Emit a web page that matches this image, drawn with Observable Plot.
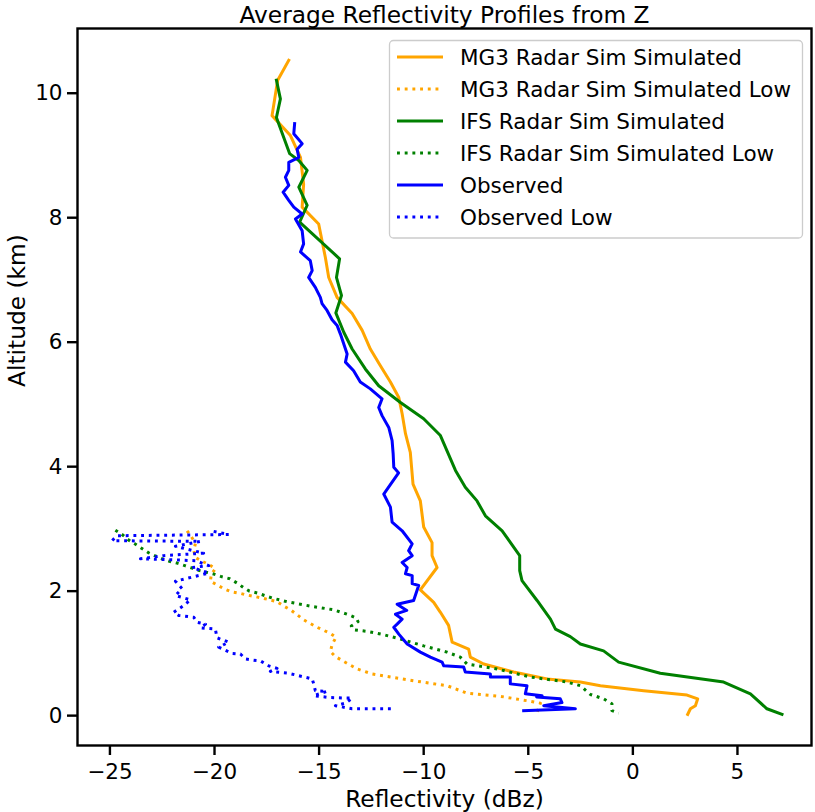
<!DOCTYPE html>
<html><head><meta charset="utf-8">
<script src="https://cdn.jsdelivr.net/npm/d3@7"></script>
<script src="https://cdn.jsdelivr.net/npm/@observablehq/plot@0.6"></script>
<style>
body{margin:0;background:#fff;}
#chart{position:relative;width:815px;height:812px;}
</style></head><body><div id="chart"></div>
<script>
// ---- Data, listed from top altitude downwards ----
const mg3Refl = [-16.45,-16.98,-17.25,-16.37,-15.89,-15.74,-15.81,-15.02,-14.70,-14.54,-14.14,-13.42,-12.94,-12.55,-12.07,-11.59,-11.19,-11.03,-10.87,-10.64,-10.51,-10.16,-10.00,-9.60,-9.60,-9.36,-10.16,-9.52,-9.20,-8.81,-8.64,-7.85,-7.77,-7.13,-5.70,-4.10,-2.51,-1.55,0.52,2.59,3.10,2.99,2.75,2.62];
const mg3Alt  = [10.53,10.21,9.64,9.32,8.97,8.54,8.17,7.90,7.36,7.04,6.72,6.46,6.19,5.89,5.62,5.36,5.11,4.85,4.53,4.23,3.72,3.45,3.03,2.78,2.57,2.38,2.02,1.82,1.66,1.45,1.18,1.07,0.94,0.83,0.70,0.59,0.54,0.48,0.40,0.33,0.27,0.16,0.11,0.02];

const mg3LowRefl = [-21.31,-21.10,-20.91,-20.99,-20.91,-20.59,-20.28,-19.96,-20.15,-20.20,-19.88,-19.56,-19.19,-18.84,-18.48,-17.72,-17.01,-16.69,-16.37,-16.05,-15.74,-15.10,-14.46,-14.19,-14.38,-14.46,-14.22,-13.82,-13.18,-12.47,-11.75,-10.48,-8.88,-7.93,-6.33,-5.06,-4.42,-4.58];
const mg3LowAlt  = [2.97,2.87,2.77,2.65,2.54,2.48,2.43,2.36,2.27,2.16,2.10,2.04,1.99,1.97,1.94,1.89,1.83,1.76,1.70,1.62,1.54,1.42,1.32,1.26,1.14,1.03,0.95,0.87,0.75,0.67,0.63,0.56,0.48,0.36,0.31,0.24,0.20,0.05];

const ifsRefl = [-17.04,-16.85,-17.04,-16.41,-15.97,-15.57,-15.97,-15.57,-15.93,-14.02,-14.17,-13.93,-14.20,-13.82,-13.42,-12.79,-12.15,-11.11,-10.00,-9.20,-8.48,-8.01,-7.45,-7.05,-6.25,-5.41,-5.41,-5.30,-4.58,-3.94,-3.70,-2.99,-2.51,-1.40,-0.68,1.31,4.34,5.62,6.41,7.13];
const ifsAlt  = [10.21,9.91,9.61,9.03,8.92,8.76,8.49,8.20,7.93,7.34,7.04,6.75,6.47,6.16,5.89,5.57,5.30,5.03,4.77,4.50,3.94,3.67,3.45,3.21,2.97,2.57,2.33,2.17,1.85,1.55,1.39,1.27,1.15,1.04,0.86,0.68,0.54,0.35,0.11,0.02];

const ifsLowRefl = [-24.74,-24.42,-24.10,-23.81,-23.49,-23.17,-22.86,-22.50,-22.16,-21.79,-21.42,-21.07,-20.71,-20.35,-19.99,-19.64,-19.27,-18.92,-18.63,-18.33,-17.96,-17.25,-16.53,-15.42,-14.30,-13.58,-13.23,-13.14,-13.46,-13.35,-12.63,-11.91,-11.11,-10.00,-8.88,-8.25,-7.93,-6.49,-4.90,-3.15,-2.51,-2.03,-1.40,-1.00,-1.00,-0.68];
const ifsLowAlt  = [2.98,2.91,2.82,2.76,2.69,2.62,2.57,2.52,2.48,2.45,2.41,2.37,2.33,2.30,2.27,2.23,2.20,2.13,2.06,2.00,1.97,1.89,1.83,1.76,1.70,1.62,1.57,1.51,1.44,1.38,1.35,1.30,1.23,1.12,1.02,0.94,0.83,0.75,0.62,0.54,0.48,0.34,0.27,0.19,0.08,0.04];

const obsRefl = [-16.17,-16.21,-15.81,-16.05,-15.97,-16.45,-16.45,-16.61,-16.45,-16.72,-16.45,-16.21,-15.81,-16.13,-15.81,-15.74,-15.89,-15.42,-15.33,-15.50,-15.18,-14.94,-14.86,-14.62,-14.38,-14.14,-13.98,-13.82,-13.66,-13.74,-13.35,-13.03,-12.55,-11.99,-12.15,-11.99,-11.67,-11.51,-11.46,-11.43,-11.20,-11.51,-11.91,-11.59,-11.51,-11.03,-10.55,-10.72,-10.55,-11.03,-10.79,-10.87,-10.55,-10.55,-10.24,-10.48,-11.27,-10.81,-11.35,-11.03,-11.27,-11.43,-11.19,-10.79,-10.16,-9.68,-9.12,-9.04,-8.09,-8.01,-6.81,-6.81,-5.86,-5.86,-5.06,-5.14,-4.34,-4.60,-3.47,-3.39,-4.26,-2.75,-5.22];
const obsAlt  = [9.51,9.35,9.19,9.10,8.97,8.89,8.76,8.65,8.52,8.41,8.28,8.17,8.06,7.98,7.79,7.58,7.45,7.31,7.15,7.04,6.88,6.72,6.62,6.51,6.36,6.27,6.13,5.97,5.81,5.68,5.54,5.36,5.25,5.09,4.95,4.82,4.63,4.42,4.21,3.99,3.90,3.75,3.56,3.35,3.11,2.97,2.76,2.65,2.57,2.46,2.38,2.28,2.25,2.12,2.09,1.85,1.79,1.69,1.63,1.55,1.47,1.42,1.31,1.15,1.02,0.94,0.86,0.80,0.78,0.70,0.67,0.62,0.62,0.51,0.48,0.35,0.32,0.30,0.27,0.21,0.16,0.11,0.08];

const obsLowRefl = [-20.04,-19.32,-24.66,-24.90,-20.67,-21.87,-20.52,-22.43,-23.54,-20.91,-20.28,-21.07,-20.28,-21.87,-21.55,-21.87,-21.15,-21.47,-21.95,-21.71,-20.99,-20.83,-20.43,-20.67,-19.96,-19.88,-19.32,-19.80,-19.16,-18.76,-18.52,-18.13,-17.81,-17.41,-17.01,-17.33,-16.45,-15.33,-15.26,-15.18,-14.62,-15.26,-14.46,-13.42,-13.74,-14.22,-13.42,-11.51];
const obsLowAlt  = [2.96,2.91,2.89,2.81,2.80,2.72,2.61,2.57,2.52,2.49,2.41,2.38,2.29,2.16,2.04,1.93,1.86,1.77,1.66,1.61,1.58,1.50,1.47,1.41,1.39,1.25,1.18,1.10,1.00,0.99,0.91,0.89,0.88,0.80,0.76,0.71,0.68,0.59,0.51,0.40,0.39,0.32,0.29,0.28,0.20,0.16,0.11,0.11];

const seriesNames  = ["MG3 Radar Sim Simulated","MG3 Radar Sim Simulated Low","IFS Radar Sim Simulated","IFS Radar Sim Simulated Low","Observed","Observed Low"];
const seriesColors = ["#FFA500","#FFA500","#008000","#008000","#0000FF","#0000FF"];
const seriesDotted = [false,true,false,true,false,true];
const xTicks = [-25,-20,-15,-10,-5,0,5];
const yTicks = [0,2,4,6,8,10];
const titleText = "Average Reflectivity Profiles from Z";
const xLabel = "Reflectivity (dBz)";
const yLabel = "Altitude (km)";

// ---- Build table ----
const seriesData = [
  [mg3Refl, mg3Alt], [mg3LowRefl, mg3LowAlt],
  [ifsRefl, ifsAlt], [ifsLowRefl, ifsLowAlt],
  [obsRefl, obsAlt], [obsLowRefl, obsLowAlt]
];
const rows = seriesData.flatMap(([r, a], i) => r.map((v, j) => ({k: i, refl: v, alt: a[j]})));

const fmt = d => d < 0 ? "\u2212" + (-d) : String(d);
const LW = 3;

const plot = Plot.plot({
  width: 815, height: 812,
  marginLeft: 77, marginRight: 4, marginTop: 28, marginBottom: 67,
  style: {fontFamily: "DejaVu Sans", fontSize: "21.5px", background: "white", color: "black"},
  x: {domain: [-26.55, 8.54], ticks: xTicks},
  y: {domain: [-0.48, 11.04], ticks: yTicks},
  marks: [
    ...seriesNames.map((name, i) => Plot.line(rows.filter(d => d.k === i), {
      x: "refl", y: "alt", stroke: seriesColors[i], strokeWidth: LW,
      strokeDasharray: seriesDotted[i] ? "2.9,4.8" : null,
      strokeLinejoin: "round", strokeLinecap: seriesDotted[i] ? "butt" : "square"
    })),
    Plot.frame({stroke: "black", strokeWidth: 2.4}),
    Plot.axisX(xTicks, {tickSize: 10, tickPadding: 8, strokeWidth: 2.4, fontSize: 21.5, tickFormat: fmt, label: null}),
    Plot.axisY(yTicks, {tickSize: 10, tickPadding: 5, strokeWidth: 2.4, fontSize: 21.5, tickFormat: fmt, label: null}),
    Plot.text([titleText], {text: d => d, frameAnchor: "top", dy: -6, lineAnchor: "bottom", fontSize: 23.3}),
    Plot.text([xLabel], {text: d => d, frameAnchor: "bottom", dy: 61, lineAnchor: "bottom", fontSize: 23.3}),
    Plot.text([yLabel], {text: d => d, frameAnchor: "left", dx: -53, rotate: -90, lineAnchor: "bottom", fontSize: 23.3})
  ]
});

// ---- Legend (layout only) ----
const svg = d3.select(plot);
const lg = svg.append("g");
lg.append("rect").attr("x", 389.5).attr("y", 40.5).attr("width", 413).attr("height", 197.5)
  .attr("rx", 4).attr("fill", "white").attr("fill-opacity", 0.8)
  .attr("stroke", "#cccccc").attr("stroke-width", 1.3);
seriesNames.forEach((name, i) => {
  const cy = 57 + i * 32;
  lg.append("line").attr("x1", 397).attr("x2", 443).attr("y1", cy).attr("y2", cy)
    .attr("stroke", seriesColors[i]).attr("stroke-width", LW)
    .attr("stroke-dasharray", seriesDotted[i] ? "2.9,4.8" : null);
  lg.append("text").attr("x", 460).attr("y", cy + 8).attr("font-size", 21.5)
    .attr("text-anchor", "start")
    .attr("font-family", "DejaVu Sans").attr("fill", "black").text(name);
});

document.getElementById("chart").appendChild(plot);
</script></body></html>
